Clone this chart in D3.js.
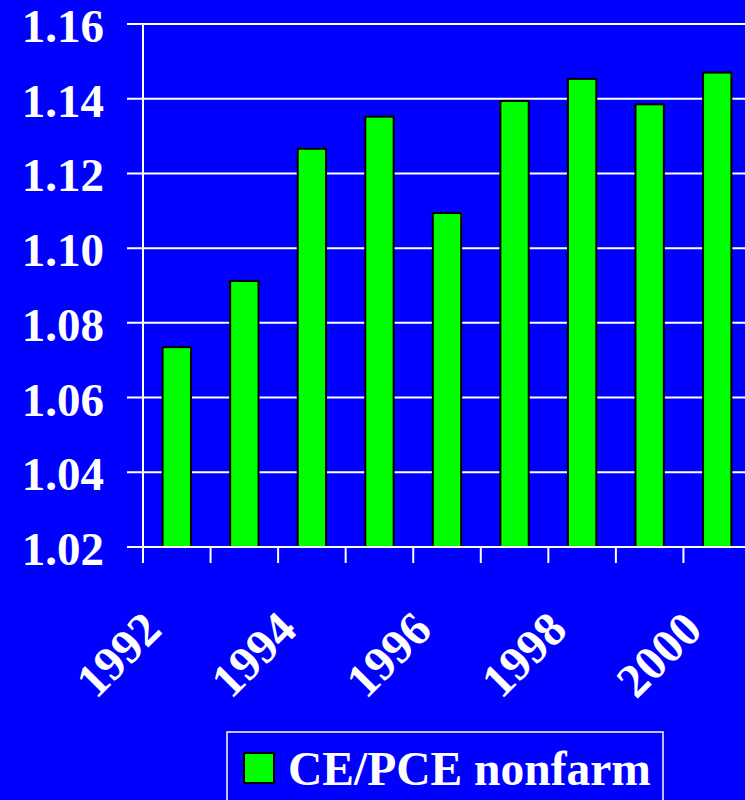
<!DOCTYPE html>
<html>
<head>
<meta charset="utf-8">
<script src="https://cdn.jsdelivr.net/npm/d3@7"></script>
<style>
  html, body { margin: 0; padding: 0; background: #0000ff; overflow: hidden; }
  svg { display: block; }
</style>
</head>
<body>
<svg id="chart" width="745" height="800"></svg>
<script>
// Ratio of CE to PCE (nonfarm), by year
const years = ["1992", "1993", "1994", "1995", "1996", "1997", "1998", "1999", "2000"];
const ratios = [1.0735, 1.0912, 1.1266, 1.1352, 1.1094, 1.1394, 1.1453, 1.1385, 1.1470];
const yTicks = [1.02, 1.04, 1.06, 1.08, 1.10, 1.12, 1.14, 1.16];
const labeledYears = ["1992", "1994", "1996", "1998", "2000"];
const seriesName = "CE/PCE nonfarm";

const svg = d3.select("#chart");
const W = 745, H = 800;
const plotLeft = 143, plotRight = 751, plotTop = 24, plotBottom = 547;
const font = "'Liberation Serif', 'Times New Roman', serif";

svg.append("rect").attr("width", W).attr("height", H).attr("fill", "#0000ff");

const x = d3.scaleBand().domain(years).range([plotLeft, plotRight]).paddingInner(0).paddingOuter(0);
const y = d3.scaleLinear().domain([1.02, 1.16]).range([plotBottom, plotTop]);

// horizontal gridlines with outward ticks on the left
svg.append("g").selectAll("line").data(yTicks).join("line")
  .attr("x1", plotLeft - 16).attr("x2", W)
  .attr("y1", d => y(d)).attr("y2", d => y(d))
  .attr("stroke", "#ffffff").attr("stroke-width", 2);

// y tick labels
svg.append("g").selectAll("text").data(yTicks).join("text")
  .attr("x", 104).attr("y", d => y(d) + 18)
  .attr("text-anchor", "end")
  .attr("font-family", font).attr("font-weight", "bold").attr("font-size", 47)
  .attr("fill", "#ffffff")
  .text(d => d3.format(".2f")(d));

// bars
const barW = x.bandwidth() * 0.42;
svg.append("g").selectAll("rect").data(years).join("rect")
  .attr("x", d => x(d) + (x.bandwidth() - barW) / 2)
  .attr("width", barW)
  .attr("y", (d, i) => y(ratios[i]))
  .attr("height", (d, i) => plotBottom - y(ratios[i]))
  .attr("fill", "#00ff00").attr("stroke", "#000000").attr("stroke-width", 2);

// y axis line
svg.append("line").attr("x1", plotLeft).attr("x2", plotLeft).attr("y1", plotTop).attr("y2", plotBottom + 16)
  .attr("stroke", "#ffffff").attr("stroke-width", 2);

// x axis line and category boundary ticks
svg.append("line").attr("x1", plotLeft).attr("x2", W).attr("y1", plotBottom).attr("y2", plotBottom)
  .attr("stroke", "#ffffff").attr("stroke-width", 2);
svg.append("g").selectAll("line").data(years.slice(1)).join("line")
  .attr("x1", d => x(d)).attr("x2", d => x(d))
  .attr("y1", plotBottom).attr("y2", plotBottom + 16)
  .attr("stroke", "#ffffff").attr("stroke-width", 2);

// rotated year labels
svg.append("g").selectAll("text").data(labeledYears).join("text")
  .attr("transform", d => `translate(${x(d) + x.bandwidth() / 2 - 13},632) rotate(-45)`)
  .attr("text-anchor", "end")
  .attr("font-family", font).attr("font-weight", "bold").attr("font-size", 48)
  .attr("fill", "#ffffff")
  .text(d => d);

// legend
const lg = svg.append("g");
lg.append("rect").attr("x", 227).attr("y", 732).attr("width", 436).attr("height", 90)
  .attr("fill", "none").attr("stroke", "#ffffff").attr("stroke-width", 1.5);
lg.append("rect").attr("x", 244).attr("y", 753).attr("width", 30).attr("height", 30)
  .attr("fill", "#00ff00").attr("stroke", "#000000").attr("stroke-width", 2);
lg.append("text").attr("x", 288).attr("y", 785)
  .attr("font-family", font).attr("font-weight", "bold").attr("font-size", 47.5)
  .attr("fill", "#ffffff")
  .text(seriesName);
</script>
</body>
</html>
